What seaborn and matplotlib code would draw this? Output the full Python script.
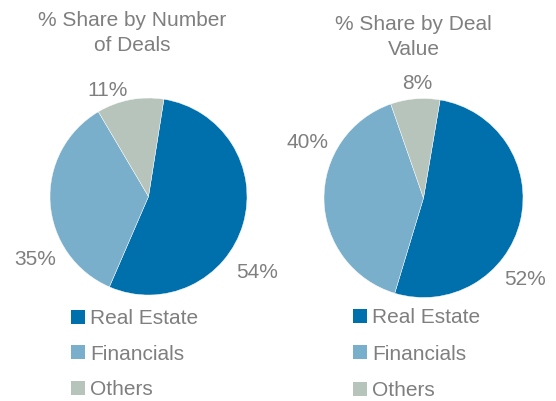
import matplotlib
matplotlib.use("Agg")
import matplotlib.pyplot as plt
import seaborn as sns
from matplotlib.patches import Patch

# ---- data ----
categories = ["Real Estate", "Financials", "Others"]
share_by_deals = [54, 35, 11]
share_by_value = [52, 40, 8]
titles = ["% Share by Number\nof Deals", "% Share by Deal\nValue"]
colors = ["#0070AD", "#7AAFCB", "#B7C4BB"]

# ---- style ----
sns.set_theme(style="white")
plt.rcParams["font.family"] = ["Liberation Sans", "DejaVu Sans"]
GRAY = "#7F7F7F"
W, H = 556, 401
FS = 15

layouts = [
    dict(cx=148.5, cy=196.5, r=98.5, start=81, tx=132, ty=33.3, leg=(71, 309), sp=0.80,
         lab=[(1.10, -0.77), (-1.15, -0.64), (-0.42, 1.08)]),
    dict(cx=423.5, cy=198.0, r=99.5, start=80.4, tx=413.5, ty=37.3, leg=(353, 308), sp=0.85,
         lab=[(1.02, -0.82), (-1.17, 0.56), (-0.06, 1.15)]),
]
series = [share_by_deals, share_by_value]

fig = plt.figure(figsize=(W / 100, H / 100), dpi=100)
fig.patch.set_facecolor("white")
palette = sns.color_palette(colors)

for values, title, lay in zip(series, titles, layouts):
    L = 1.5
    S = 2 * L * lay["r"]
    ax = fig.add_axes([(lay["cx"] - S / 2) / W, (H - lay["cy"] - S / 2) / H, S / W, S / H])
    ax.pie(values, colors=palette, startangle=lay["start"], counterclock=False,
           wedgeprops=dict(edgecolor="white", linewidth=0.3))
    ax.set_xlim(-L, L)
    ax.set_ylim(-L, L)
    ax.set_axis_off()
    for v, (lx, ly) in zip(values, lay["lab"]):
        ax.text(lx, ly, f"{v}%", ha="center", va="center", fontsize=FS, color=GRAY,
                clip_on=False)
    fig.text(lay["tx"] / W, 1 - lay["ty"] / H, title, ha="center", va="center",
             fontsize=FS, color=GRAY, linespacing=1.38)
    handles = [Patch(facecolor=c, edgecolor="none") for c in palette]
    lx, ly = lay["leg"]
    fig.legend(handles, categories, loc="upper left",
               bbox_to_anchor=(lx / W, 1 - ly / H), frameon=False, borderpad=0,
               borderaxespad=0, handlelength=0.67, handleheight=0.67,
               handletextpad=0.25, labelspacing=lay["sp"], fontsize=FS,
               labelcolor=GRAY)

fig.savefig("out.png", dpi=100, facecolor="white")
